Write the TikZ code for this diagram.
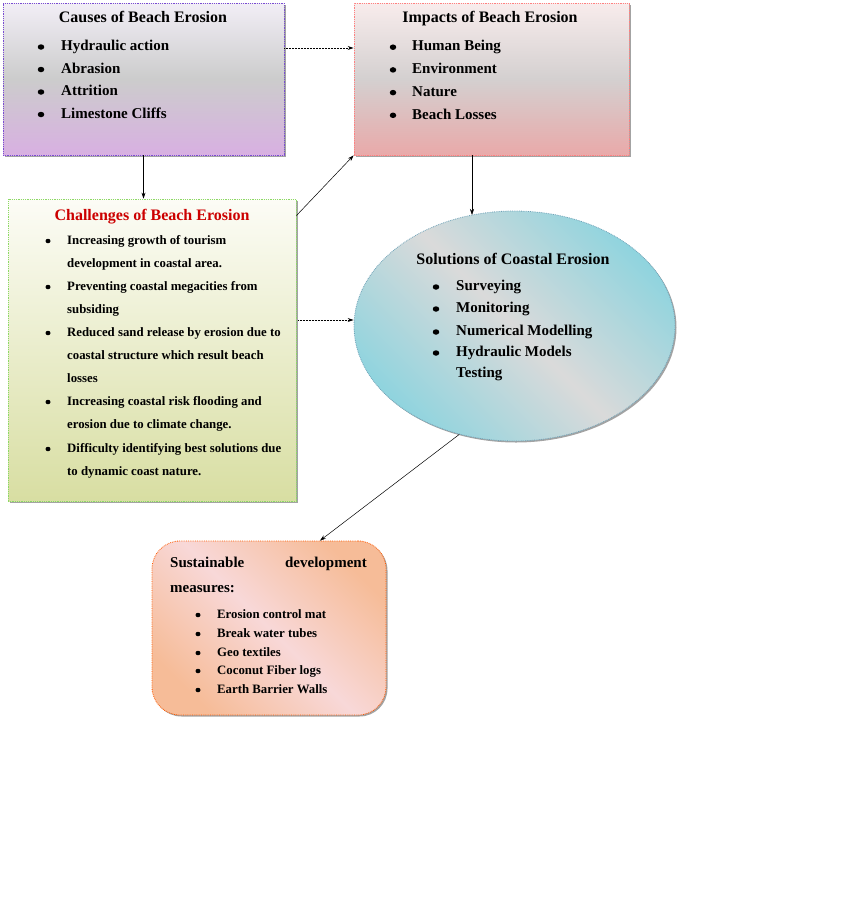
\documentclass[tikz,border=0pt]{standalone}
\usepackage{fontspec}
\setmainfont{Liberation Serif}
\usetikzlibrary{shapes.geometric,arrows.meta,shadows}
\definecolor{titlered}{HTML}{CC0000}
\definecolor{cauTop}{HTML}{F2EEF6}
\definecolor{cauMid}{HTML}{CCCCCC}
\definecolor{cauBot}{HTML}{D8B0E2}
\definecolor{impTop}{HTML}{F8ECEC}
\definecolor{impMid}{HTML}{D4D0D0}
\definecolor{impBot}{HTML}{E9A9A9}
\definecolor{chaTop}{HTML}{FCFCF6}
\definecolor{chaBot}{HTML}{D8DEA2}
\definecolor{solCyan}{HTML}{90D4DE}
\definecolor{solGray}{HTML}{DADADA}
\definecolor{susPeach}{HTML}{F6BC98}
\definecolor{susPink}{HTML}{F8D8D8}
\begin{document}
\begin{tikzpicture}[x=1pt,y=-1pt,
  box/.style={draw, densely dotted, line width=0.8pt, inner sep=0pt,
    drop shadow={shadow xshift=1.5pt, shadow yshift=-1.5pt, fill=black!45, opacity=0.8}},
  ttl/.style={font=\bfseries\fontsize{16}{18}\selectfont, inner sep=0pt, text height=11pt, text depth=3pt},
  itm/.style={font=\bfseries\fontsize{15}{17}\selectfont, anchor=west, inner sep=0pt, text height=10.5pt, text depth=3pt},
  sitm/.style={font=\bfseries\fontsize{12.8}{14}\selectfont, anchor=west, inner sep=0pt, text height=9pt, text depth=2.5pt},
  stl/.style={sitm, font=\bfseries\fontsize{15}{17}\selectfont},
  bul/.style={ellipse, fill=black, inner sep=0pt, minimum width=6.5pt, minimum height=5.5pt},
  sbul/.style={ellipse, fill=black, inner sep=0pt, minimum width=5pt, minimum height=4.5pt},
  arr/.style={-{Stealth[length=6pt,width=4pt]}, line width=0.5pt},
  darr/.style={arr, densely dotted, line width=0.9pt}]
\useasboundingbox (0,0) rectangle (845,898);

% Causes
\node[box, draw=blue!50!violet!70, minimum width=281pt, minimum height=152pt,
  top color=cauTop, bottom color=cauBot, middle color=cauMid]
  (causes) at (143.5,79) {};
\node[ttl] (causesT) at (143,18) {Causes of Beach Erosion};
\foreach \t [count=\i] in {Hydraulic action,Abrasion,Attrition,Limestone Cliffs}{
  \node[bul] (cb\i) at (41,{24.5+22.5*\i}) {};
  \node[itm] (ci\i) at (61,{24.5+22.5*\i}) {\t};
}

% Impacts
\node[box, draw=red!50, minimum width=275pt, minimum height=152pt,
  top color=impTop, bottom color=impBot, middle color=impMid]
  (impacts) at (491.5,79) {};
\node[ttl] (impactsT) at (490,18) {Impacts of Beach Erosion};
\foreach \t [count=\i] in {Human Being,Environment,Nature,Beach Losses}{
  \node[bul] (ib\i) at (393,{24.5+22.7*\i}) {};
  \node[itm] (ii\i) at (412,{24.5+22.7*\i}) {\t};
}

% Challenges
\node[box, draw=green!50!olive!60, minimum width=288pt, minimum height=302pt,
  top color=chaTop, bottom color=chaBot]
  (chall) at (152,350) {};
\node[ttl, text=titlered] (challT) at (152,216) {Challenges of Beach Erosion};
\foreach \y/\b/\t in {
  241/1/Increasing growth of tourism,
  264/0/development in coastal area.,
  287/1/Preventing coastal megacities from,
  310/0/subsiding,
  333/1/Reduced sand release by erosion due to,
  356/0/coastal structure which result beach,
  379/0/losses,
  402/1/Increasing coastal risk flooding and,
  425/0/erosion due to climate change.,
  449/1/Difficulty identifying best solutions due,
  472/0/to dynamic coast nature.}{
  \ifnum\b=1 \node[sbul] at (48,\y) {};\fi
  \node[sitm] at (67,\y) {\t};
}

% Solutions ellipse
\node[box, ellipse, draw=cyan!40!gray, minimum width=321pt, minimum height=230pt,
  left color=solCyan, right color=solCyan, middle color=solGray,
  shading angle=-45]
  (sol) at (514.5,326) {};
\node[ttl] (solT) at (513,260) {Solutions of Coastal Erosion};
\foreach \y/\b/\t in {287/1/Surveying,309/1/Monitoring,332/1/Numerical Modelling,353/1/Hydraulic Models,374/0/Testing}{
  \ifnum\b=1 \node[bul] at (436,\y) {};\fi
  \node[itm] at (456,\y) {\t};
}

% Sustainable
\node[box, rounded corners=28pt, draw=orange!70!red, minimum width=234pt, minimum height=174pt,
  left color=susPeach, right color=susPeach, middle color=susPink, shading angle=-45]
  (sust) at (269,628) {};
\node[stl] (sustT1) at (170,564) {Sustainable};
\node[stl, anchor=east] (sustT2) at (367,564) {development};
\node[stl] (sustT3) at (170,589) {measures:};
\foreach \y/\t in {615/Erosion control mat,634/Break water tubes,653/Geo textiles,671/Coconut Fiber logs,690/Earth Barrier Walls}{
  \node[sbul] at (198,\y) {};
  \node[sitm] at (217,\y) {\t};
}

% connectors
\coordinate (c1) at ([yshift=-17pt]chall.north east);
\coordinate (c2) at (472,157);
\coordinate (c5) at (472,215);
\coordinate (c3) at (298,320);
\coordinate (c4) at (320,541);
\draw[darr] ([yshift=31pt]causes.east) -- ([yshift=31pt]impacts.west);
\draw[arr] (causes.south) -- (chall.north -| causes.south);
\draw[arr] (c1) -- (impacts.south west);
\draw[arr] (impacts.south -| c2) -- (c5);
\draw[darr] (c3) -- (sol.west |- c3);
\draw[arr] (sol.-117) -- (sust.north -| c4);
\end{tikzpicture}
\end{document}
